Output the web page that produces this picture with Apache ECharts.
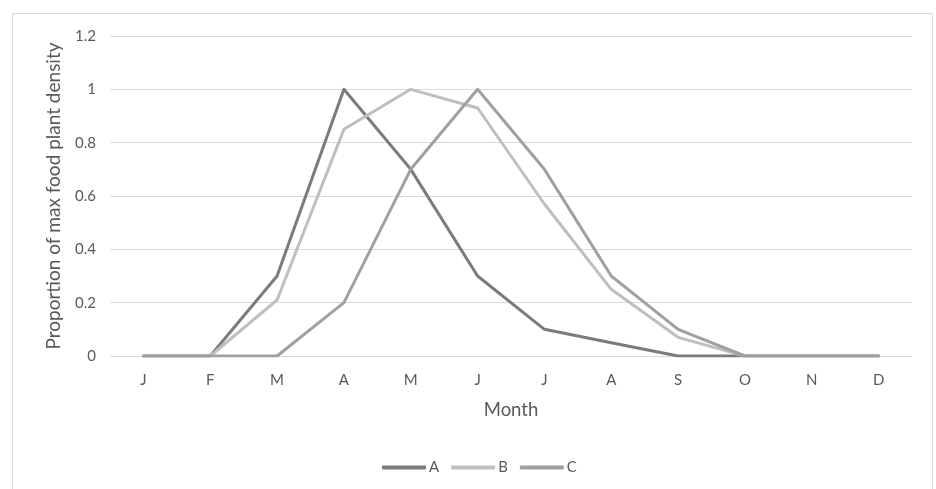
<!DOCTYPE html>
<html>
<head>
<meta charset="utf-8">
<script src="https://cdn.jsdelivr.net/npm/echarts@6/dist/echarts.min.js"></script>
<style>html,body{margin:0;padding:0;background:#fff}#c{width:936px;height:489px}</style>
</head>
<body>
<div id="c"></div>
<script>
const months = ['J','F','M','A','M','J','J','A','S','O','N','D'];
const seriesA = [0,0,0.3,1,0.7,0.3,0.1,0.05,0,0,0,0];
const seriesB = [0,0,0.21,0.85,1,0.93,0.57,0.25,0.07,0,0,0];
const seriesC = [0,0,0,0.2,0.7,1,0.7,0.3,0.1,0,0,0];
const names = ['A','B','C'];
const colors = ['#7b7b7d','#bfbfbf','#a0a0a2'];

const chart = echarts.init(document.getElementById('c'));
const font = 'Lato, "Open Sans", sans-serif';
const mk = (name, data, color) => ({
  name, type: 'line', data, symbol: 'none', smooth: false,
  lineStyle: {color, width: 3, cap: 'round', join: 'round'},
  itemStyle: {color}
});
chart.setOption({
  animation: false,
  graphic: [{type:'rect', shape:{x:12.5,y:13.5,width:920,height:490}, style:{fill:'none', stroke:'#d9d9d9', lineWidth:1}, silent:true}],
  grid: {left: 110, right: 24, top: 36, bottom: 133},
  legend: {
    top: 455, left: 377, itemGap: 12, itemWidth: 44, itemHeight: 4, icon: 'roundRect',
    textStyle: {color: '#595959', fontSize: 15, fontFamily: font, padding:[0,0,0,-2]},
    data: names
  },
  xAxis: {
    type: 'category', data: months, boundaryGap: true,
    axisLine: {show: false}, axisTick: {show: false},
    axisLabel: {color: '#595959', fontSize: 15, fontFamily: font, margin: 17},
    name: 'Month', nameLocation: 'middle', nameGap: 45,
    nameTextStyle: {color: '#595959', fontSize: 18.5, fontFamily: font}
  },
  yAxis: {
    type: 'value', min: 0, max: 1.2, interval: 0.2,
    axisLine: {show: false}, axisTick: {show: false},
    splitLine: {lineStyle: {color: '#d9d9d9', width: 1}},
    axisLabel: {color: '#595959', fontSize: 15, fontFamily: font, margin: 14,
      formatter: v => String(Math.round(v*10)/10)},
    name: 'Proportion of max food plant density', nameLocation: 'middle', nameGap: 47,
    nameTextStyle: {color: '#595959', fontSize: 19, fontFamily: font}
  },
  series: [mk(names[0], seriesA, colors[0]), mk(names[1], seriesB, colors[1]), mk(names[2], seriesC, colors[2])]
});
</script>
</body>
</html>
